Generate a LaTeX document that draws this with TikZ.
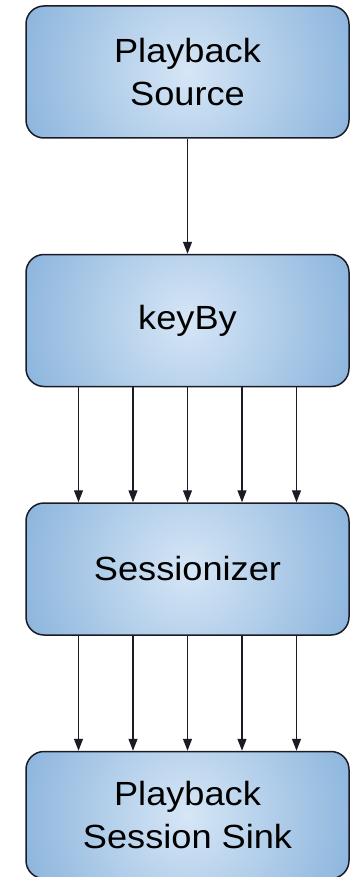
\documentclass[tikz,border=0pt]{standalone}
\usepackage{fontspec}
\setmainfont{Liberation Sans}[FakeStretch=1.08]
\usetikzlibrary{arrows.meta,positioning}
\definecolor{boxlight}{HTML}{D6E6F6}
\definecolor{boxdark}{HTML}{639ACF}
\definecolor{ink}{HTML}{1B1B26}
\tikzset{
  >={Triangle[length=12pt,width=9pt]},
  every node/.style={font=\fontsize{33.5}{43.5}\selectfont,text=black},
  box/.style={draw=ink,line width=1.5pt,rounded corners=18pt,fill=boxdark,align=center,
    minimum width=323pt,minimum height=132pt,inner sep=0pt,
    path picture={\shade[inner color=boxlight,outer color=boxdark]
      (path picture bounding box.center) circle (270pt);}},
  arrow/.style={->,line width=1.3pt,draw=ink},
}
\begin{document}
\begin{tikzpicture}
\useasboundingbox (0,0) rectangle (357pt,-877pt);

\node[box] (source) at (187.5pt,-72pt) {Playback\\Source};
\node[box,below=115pt of source] (keyby) {keyBy};
\node[box,below=115pt of keyby] (sessionizer) {Sessionizer};
\node[box,below=115pt of sessionizer,minimum height=127pt] (sink) {Playback\\Session Sink};

\draw[arrow] (source.south) -- (keyby.north);
\foreach \dx in {-109,-54.5,0,54.5,109} {
  \draw[arrow] ([xshift=\dx pt]keyby.south) -- ([xshift=\dx pt]sessionizer.north);
  \draw[arrow] ([xshift=\dx pt]sessionizer.south) -- ([xshift=\dx pt]sink.north);
}

\end{tikzpicture}
\end{document}
